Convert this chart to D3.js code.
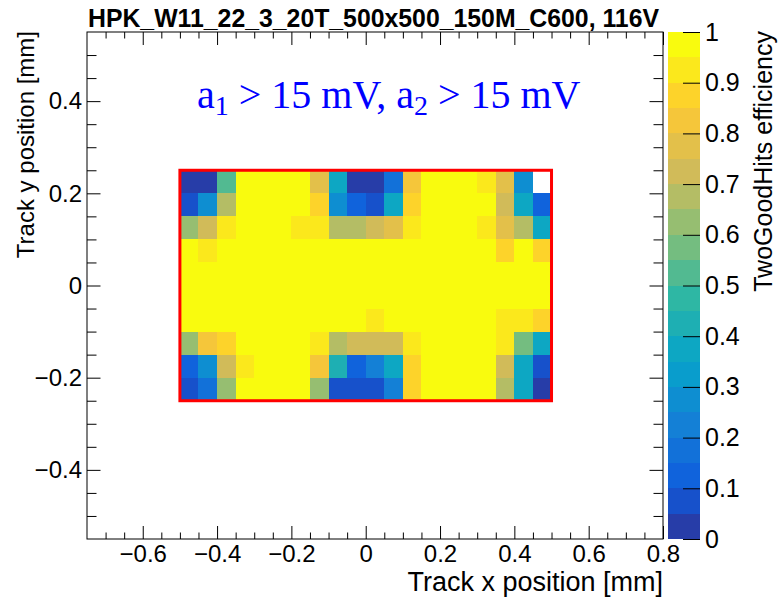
<!DOCTYPE html>
<html>
<head>
<meta charset="utf-8">
<script src="https://cdn.jsdelivr.net/npm/d3@7"></script>
<style>
  body { margin: 0; background: #ffffff; }
</style>
</head>
<body>
<script>
// ---- data ----------------------------------------------------------------
// lower edges of the x bins (mm), 0.05 mm wide
const xBins = [-0.50, -0.45, -0.40, -0.35, -0.30, -0.25, -0.20, -0.15, -0.10, -0.05,
                0.00,  0.05,  0.10,  0.15,  0.20,  0.25,  0.30,  0.35,  0.40,  0.45];
// upper edges of the y bins (mm), top row first, 0.05 mm high
const yBins = [0.25, 0.20, 0.15, 0.10, 0.05, 0.00, -0.05, -0.10, -0.15, -0.20];
const binWidth = 0.05;

// TwoGoodHits efficiency per bin, rows follow yBins, columns follow xBins (null = empty bin)
const efficiency = [
  [0.02, 0.02, 0.52, 1.00, 1.00, 1.00, 1.00, 0.77, 0.35, 0.02, 0.02, 0.17, 0.82, 1.00, 1.00, 1.00, 0.92, 0.77, 0.25, null],
  [0.07, 0.27, 0.67, 1.00, 1.00, 1.00, 1.00, 0.87, 0.27, 0.12, 0.07, 0.37, 0.87, 1.00, 1.00, 1.00, 1.00, 0.72, 0.37, 0.12],
  [0.62, 0.72, 0.92, 1.00, 1.00, 1.00, 0.92, 0.92, 0.67, 0.67, 0.72, 0.77, 0.92, 1.00, 1.00, 1.00, 0.92, 0.77, 0.67, 0.37],
  [1.00, 0.92, 1.00, 1.00, 1.00, 1.00, 1.00, 1.00, 1.00, 1.00, 1.00, 1.00, 1.00, 1.00, 1.00, 1.00, 1.00, 0.87, 1.00, 0.87],
  [1.00, 1.00, 1.00, 1.00, 1.00, 1.00, 1.00, 1.00, 1.00, 1.00, 1.00, 1.00, 1.00, 1.00, 1.00, 1.00, 1.00, 1.00, 1.00, 1.00],
  [1.00, 1.00, 1.00, 1.00, 1.00, 1.00, 1.00, 1.00, 1.00, 1.00, 1.00, 1.00, 1.00, 1.00, 1.00, 1.00, 1.00, 1.00, 1.00, 1.00],
  [1.00, 1.00, 1.00, 1.00, 1.00, 1.00, 1.00, 1.00, 1.00, 1.00, 0.92, 1.00, 1.00, 1.00, 1.00, 1.00, 1.00, 0.92, 0.92, 0.87],
  [0.62, 0.82, 0.87, 1.00, 1.00, 1.00, 1.00, 0.92, 0.67, 0.72, 0.72, 0.72, 0.92, 1.00, 1.00, 1.00, 1.00, 0.92, 0.57, 0.37],
  [0.12, 0.25, 0.72, 0.92, 1.00, 1.00, 1.00, 0.82, 0.42, 0.12, 0.22, 0.35, 0.87, 1.00, 1.00, 1.00, 1.00, 0.72, 0.35, 0.07],
  [0.07, 0.17, 0.62, 1.00, 1.00, 1.00, 1.00, 0.62, 0.07, 0.07, 0.07, 0.20, 0.87, 1.00, 1.00, 1.00, 1.00, 0.67, 0.35, 0.02]
];

// sensor outline (mm)
const padX = [-0.5, 0.5];
const padY = [-0.25, 0.25];

// axis ticks
const xTicks = [-0.6, -0.4, -0.2, 0, 0.2, 0.4, 0.6, 0.8];
const yTicks = [-0.4, -0.2, 0, 0.2, 0.4];
const zTicks = [0, 0.1, 0.2, 0.3, 0.4, 0.5, 0.6, 0.7, 0.8, 0.9, 1];
const nContours = 20;

const titleText = "HPK_W11_22_3_20T_500x500_150M_C600, 116V";
const xTitle = "Track x position [mm]";
const yTitle = "Track y position [mm]";
const zTitle = "TwoGoodHits efficiency";

// ---- palette (ROOT kBird) ------------------------------------------------
const birdStops = [0.0, 0.125, 0.25, 0.375, 0.5, 0.625, 0.75, 0.875, 1.0];
const birdR = [0.2082, 0.0592, 0.0780, 0.0232, 0.1802, 0.5301, 0.8186, 0.9956, 0.9764];
const birdG = [0.1664, 0.3599, 0.5041, 0.6419, 0.7178, 0.7492, 0.7328, 0.7862, 0.9832];
const birdB = [0.5293, 0.8684, 0.8385, 0.7914, 0.6425, 0.4662, 0.3499, 0.1968, 0.0539];
const bird = d3.scaleLinear()
  .domain(birdStops)
  .range(birdStops.map((s, i) => d3.rgb(birdR[i] * 255, birdG[i] * 255, birdB[i] * 255)))
  .interpolate(d3.interpolateRgb);
const nColors = 255;
const bandColor = d3.range(nContours).map(i => {
  const idx = Math.floor((i + 0.99) * nColors / nContours);
  return bird(Math.min(idx, nColors - 1) / (nColors - 1));
});
const colorOf = v => bandColor[Math.min(nContours - 1, Math.floor(v * nContours))];

// ---- layout --------------------------------------------------------------
const W = 779, H = 600;
const frame = { left: 87, right: 663, top: 32, bottom: 539 };
const bar = { left: 668, right: 700 };
const SANS = "'Liberation Sans', Arial, Helvetica, sans-serif";
const SERIF = "'Liberation Serif', 'Times New Roman', serif";

const svg = d3.select("body").append("svg").attr("width", W).attr("height", H)
  .style("font-family", SANS);

const x = d3.scaleLinear().domain([-0.75, 0.8]).range([frame.left, frame.right]);
const y = d3.scaleLinear().domain([-0.55, 0.55]).range([frame.bottom, frame.top]);
const z = d3.scaleLinear().domain([0, 1]).range([frame.bottom, frame.top]);

// ---- cells ---------------------------------------------------------------
const cells = [];
efficiency.forEach((row, r) => row.forEach((v, c) => {
  if (v !== null) cells.push({ x0: xBins[c], y1: yBins[r], v });
}));
svg.append("g").attr("shape-rendering", "crispEdges")
  .selectAll("rect").data(cells).join("rect")
  .attr("x", d => x(d.x0))
  .attr("y", d => y(d.y1))
  .attr("width", d => x(d.x0 + binWidth) - x(d.x0))
  .attr("height", d => y(d.y1 - binWidth) - y(d.y1))
  .attr("fill", d => colorOf(d.v));

// sensor outline
svg.append("rect")
  .attr("x", x(padX[0])).attr("y", y(padY[1]))
  .attr("width", x(padX[1]) - x(padX[0]))
  .attr("height", y(padY[0]) - y(padY[1]))
  .attr("fill", "none").attr("stroke", "#ff0000").attr("stroke-width", 3);

// ---- axes ----------------------------------------------------------------
const minus = d => (d < 0 ? "\u2212" : "") + (d === 0 ? "0" : d3.format(".1f")(Math.abs(d)));
const near = (a, list) => list.some(b => Math.abs(a - b) < 1e-9);
const xMinor = d3.range(-15, 17).map(i => i * 0.05).filter(v => !near(v, xTicks) && v > -0.75 + 1e-9 && v < 0.8 - 1e-9);
const yMinor = d3.range(-11, 12).map(i => i * 0.05).filter(v => !near(v, yTicks) && v > -0.55 + 1e-9 && v < 0.55 - 1e-9);

function styleAxis(g) {
  g.select(".domain").remove();
  g.selectAll("line").attr("stroke", "#000").attr("stroke-width", 1);
  g.selectAll("text").style("font-size", "24px").attr("fill", "#000")
    .style("font-family", SANS);
}

// bottom
svg.append("g").attr("transform", `translate(0,${frame.bottom})`)
  .call(d3.axisBottom(x).tickValues(xTicks).tickSize(-13).tickPadding(6).tickFormat(minus))
  .call(styleAxis);
svg.append("g").attr("transform", `translate(0,${frame.bottom})`)
  .call(d3.axisBottom(x).tickValues(xMinor).tickSize(-6.5).tickFormat(""))
  .call(styleAxis);
// top
svg.append("g").attr("transform", `translate(0,${frame.top})`)
  .call(d3.axisTop(x).tickValues(xTicks).tickSize(-13).tickFormat(""))
  .call(styleAxis);
svg.append("g").attr("transform", `translate(0,${frame.top})`)
  .call(d3.axisTop(x).tickValues(xMinor).tickSize(-6.5).tickFormat(""))
  .call(styleAxis);
// left
svg.append("g").attr("transform", `translate(${frame.left},0)`)
  .call(d3.axisLeft(y).tickValues(yTicks).tickSize(-13.5).tickPadding(5).tickFormat(minus))
  .call(styleAxis);
svg.append("g").attr("transform", `translate(${frame.left},0)`)
  .call(d3.axisLeft(y).tickValues(yMinor).tickSize(-9.5).tickFormat(""))
  .call(styleAxis);
// right
svg.append("g").attr("transform", `translate(${frame.right},0)`)
  .call(d3.axisRight(y).tickValues(yTicks).tickSize(-13.5).tickFormat(""))
  .call(styleAxis);
svg.append("g").attr("transform", `translate(${frame.right},0)`)
  .call(d3.axisRight(y).tickValues(yMinor).tickSize(-9.5).tickFormat(""))
  .call(styleAxis);

// frame
svg.append("rect")
  .attr("x", frame.left).attr("y", frame.top)
  .attr("width", frame.right - frame.left).attr("height", frame.bottom - frame.top)
  .attr("fill", "none").attr("stroke", "#000").attr("stroke-width", 1);

// ---- colour bar ----------------------------------------------------------
svg.append("g").attr("shape-rendering", "crispEdges")
  .selectAll("rect").data(bandColor).join("rect")
  .attr("x", bar.left)
  .attr("y", (c, i) => z((i + 1) / nContours))
  .attr("width", bar.right - bar.left)
  .attr("height", (c, i) => z(i / nContours) - z((i + 1) / nContours))
  .attr("fill", c => c);
svg.append("g").attr("transform", `translate(${bar.right},0)`)
  .call(d3.axisRight(z).tickValues(zTicks).tickSize(-17).tickPadding(5)
    .tickFormat(d => (d === 0 || d === 1) ? String(d) : d3.format(".1f")(d)))
  .call(styleAxis)
  .call(g => g.selectAll("text").style("font-size", "25px"));

// ---- texts ---------------------------------------------------------------
svg.append("text")
  .attr("x", 88).attr("y", 27)
  .style("font-size", "26px").style("font-weight", "bold")
  .attr("textLength", 571).attr("lengthAdjust", "spacingAndGlyphs")
  .text(titleText);

svg.append("text")
  .attr("x", frame.right).attr("y", 591)
  .attr("text-anchor", "end").style("font-size", "27px")
  .text(xTitle);

svg.append("text")
  .attr("transform", `translate(34,${frame.top - 1}) rotate(-90)`)
  .attr("text-anchor", "end").style("font-size", "24px")
  .text(yTitle);

svg.append("text")
  .attr("transform", `translate(772,${frame.top - 1}) rotate(-90)`)
  .attr("text-anchor", "end").style("font-size", "25px")
  .text(zTitle);

// threshold annotation
const note = svg.append("text")
  .attr("x", 197).attr("y", 108)
  .style("font-family", SERIF)
  .style("font-size", "40px").attr("fill", "#0000ff");
note.append("tspan").text("a");
note.append("tspan").style("font-size", "28px").attr("dy", 7).text("1");
note.append("tspan").attr("dy", -7).text(" > 15 mV, a");
note.append("tspan").style("font-size", "28px").attr("dy", 7).text("2");
note.append("tspan").attr("dy", -7).text(" > 15 mV");
</script>
</body>
</html>
